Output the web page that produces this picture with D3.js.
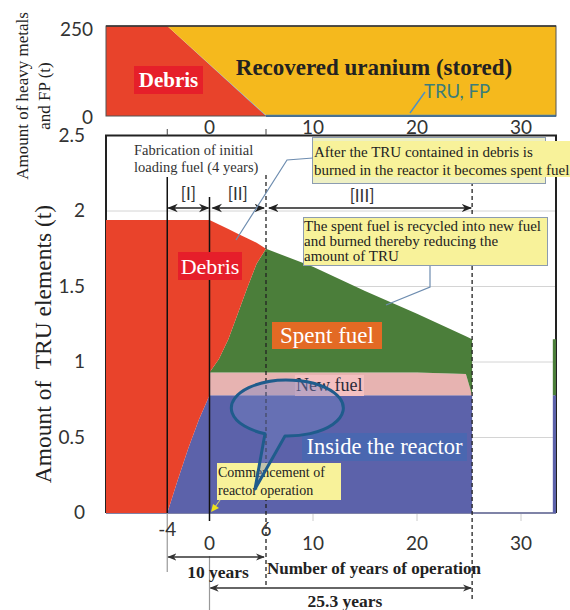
<!DOCTYPE html>
<html>
<head>
<meta charset="utf-8">
<script src="https://cdn.jsdelivr.net/npm/d3@7"></script>
<style>
  html, body { margin: 0; padding: 0; background: #fff; }
  svg { display: block; }
  .serif { font-family: "Liberation Serif", "Times New Roman", serif; }
  .sans { font-family: Lato, "Open Sans", "Liberation Sans", sans-serif; }
</style>
</head>
<body>
<svg id="chart" width="570" height="610"></svg>
<script>
// ---- Upper panel: heavy metals and FP (t) ----
const topYears   = [-9.8, -4, 6, 33.3];
const topDebris  = [250, 250, 0, 0];
const topTruFp   = [0, 0, 2, 2];
const topUranium = [0, 0, 248, 248];
const topYTicks  = [0, 250];
const topXTicks  = [0, 10, 20, 30];

// ---- Lower panel: TRU elements (t) ----
const years   = [-9.8, -4, -3, -2, -1, 0, 0, 1, 2, 3, 4, 5, 6, 10, 15, 20, 24.7, 25.3, 25.3, 33, 33, 33.3];
const reactor = [0, 0, 0.22, 0.43, 0.62, 0.78, 0.78, 0.78, 0.78, 0.78, 0.78, 0.78, 0.78, 0.78, 0.78, 0.78, 0.78, 0.78, 0, 0, 0.78, 0.78];
const newFuel = [0, 0, 0, 0, 0, 0, 0.15, 0.15, 0.15, 0.15, 0.15, 0.15, 0.15, 0.15, 0.15, 0.15, 0.14, 0, 0, 0, 0, 0];
const spent   = [0, 0, 0, 0, 0, 0, 0, 0.09, 0.22, 0.39, 0.56, 0.72, 0.82, 0.70, 0.54, 0.39, 0.25, 0.37, 0, 0, 0.37, 0.37];
const debris  = [1.94, 1.94, 1.72, 1.51, 1.32, 1.16, 1.01, 0.89, 0.73, 0.53, 0.33, 0.14, 0, 0, 0, 0, 0, 0, 0, 0, 0, 0];
const yTicks       = [0, 0.5, 1, 1.5, 2, 2.5];
const gridTicks    = [0.5, 1, 1.5, 2];
const xTicksLow    = [0, 10, 20, 30];
const xTicksRaised = [-4, 6];
const markerYears  = { fabStart: -4, start: 0, debrisGone: 6, end: 25.3 };

const svg = d3.select("#chart");

// Year axis shared by both panels; spacing follows the printed tick positions
const x = d3.scaleLinear()
  .domain([-9.8, 0, 6, 10, 30, 33.3])
  .range([106, 209.5, 266, 313, 521, 556]);
const yTop = d3.scaleLinear().domain([0, 250]).range([116, 26]);
const yB   = d3.scaleLinear().domain([0, 2.5]).range([513, 135.5]);

// arrowhead marker
const defs = svg.append("defs");
function marker(id, color) {
  defs.append("marker").attr("id", id)
    .attr("viewBox", "0 0 10 10").attr("refX", 9).attr("refY", 5)
    .attr("markerWidth", 7).attr("markerHeight", 7)
    .attr("orient", "auto-start-reverse")
    .append("path").attr("d", "M0,1 L10,5 L0,9 L3,5 Z").attr("fill", color);
}
marker("arrB", "#222");
marker("arrG", "#333");

// ================= Upper panel =================
const topRows = topYears.map((yr, i) => ({ year: yr, debris: topDebris[i], tru: topTruFp[i], uranium: topUranium[i] }));
const topStack = d3.stack().keys(["debris", "tru", "uranium"])(topRows);
const topColors = { debris: "#e8432b", tru: "#3d8fd4", uranium: "#f5b91d" };
const topArea = d3.area().x(d => x(d.data.year)).y0(d => yTop(d[0])).y1(d => yTop(d[1]));

svg.append("g").selectAll("path").data(topStack).join("path")
  .attr("d", topArea).attr("fill", d => topColors[d.key]);

// TRU, FP thin band drawn as a line along its top
const truLayer = topStack.find(s => s.key === "tru");
svg.append("path")
  .datum(truLayer.filter(d => d.data.tru > 0))
  .attr("d", d3.line().x(d => x(d.data.year)).y(d => yTop(d[1]) + 0.5))
  .attr("fill", "none").attr("stroke", "#3d8fd4").attr("stroke-width", 2.2);

// upper panel frame
svg.append("rect")
  .attr("x", x(-9.8)).attr("y", yTop(250))
  .attr("width", x(33.3) - x(-9.8)).attr("height", yTop(0) - yTop(250))
  .attr("fill", "none").attr("stroke", "#555").attr("stroke-width", 1);
svg.append("line")
  .attr("x1", x(-9.8)).attr("x2", x(33.3)).attr("y1", yTop(250)).attr("y2", yTop(250))
  .attr("stroke", "#333").attr("stroke-width", 1.5);

// upper panel labels
svg.append("rect").attr("x", 134).attr("y", 66).attr("width", 69).attr("height", 28).attr("fill", "#e61f2a");
svg.append("text").attr("class", "serif").attr("x", 168.5).attr("y", 87)
  .attr("text-anchor", "middle").attr("font-size", 21).attr("font-weight", "bold").attr("fill", "#fff")
  .text("Debris");
svg.append("text").attr("class", "serif").attr("x", 374).attr("y", 75)
  .attr("text-anchor", "middle").attr("font-size", 23).attr("font-weight", "bold").attr("fill", "#222")
  .text("Recovered uranium (stored)");
svg.append("text").attr("class", "sans").attr("x", 424).attr("y", 98)
  .attr("font-size", 18.5).attr("fill", "#3b7d7a").text("TRU, FP");
svg.append("line").attr("x1", 425).attr("y1", 92).attr("x2", 410).attr("y2", 113)
  .attr("stroke", "#4a90c8").attr("stroke-width", 1.4);

// upper panel ticks
svg.append("g").selectAll("text").data(topYTicks).join("text")
  .attr("class", "sans").attr("x", 93).attr("y", d => yTop(d) + (d === 0 ? 8 : 10))
  .attr("text-anchor", "end").attr("font-size", 19).attr("fill", "#333").text(d => d);
svg.append("g").selectAll("text").data(topXTicks).join("text")
  .attr("class", "sans").attr("x", d => x(d)).attr("y", 134)
  .attr("text-anchor", "middle").attr("font-size", 19).attr("fill", "#333").text(d => d);

// upper panel axis title
const tTitle = svg.append("g").attr("transform", "translate(0,96)");
tTitle.append("text").attr("class", "serif").attr("transform", "translate(28,0) rotate(-90)")
  .attr("text-anchor", "middle").attr("font-size", 17).attr("fill", "#222").text("Amount of heavy metals");
tTitle.append("text").attr("class", "serif").attr("transform", "translate(50,0) rotate(-90)")
  .attr("text-anchor", "middle").attr("font-size", 17).attr("fill", "#222").text("and FP (t)");

// ================= Lower panel =================
// frame and grid (drawn beneath the areas)
svg.append("g").selectAll("line").data(gridTicks).join("line")
  .attr("x1", x(-9.8)).attr("x2", x(33.3)).attr("y1", d => yB(d)).attr("y2", d => yB(d))
  .attr("stroke", "#d4d4d4").attr("stroke-width", 1);
svg.append("path")
  .attr("d", `M${x(-9.8)},${yB(0)} V${yB(2.5)} H${x(33.3)} V${yB(0)}`)
  .attr("fill", "none").attr("stroke", "#222").attr("stroke-width", 2);
svg.append("line").attr("x1", x(-9.8)).attr("x2", x(33.3)).attr("y1", yB(0)).attr("y2", yB(0))
  .attr("stroke", "#555a8a").attr("stroke-width", 1.5);
// small ticks above the frame
svg.append("g").selectAll("line").data(xTicksRaised).join("line")
  .attr("x1", d => x(d)).attr("x2", d => x(d)).attr("y1", 129).attr("y2", yB(2.5))
  .attr("stroke", "#444").attr("stroke-width", 1);
// faint ticks below the axis
svg.append("g").selectAll("line").data(xTicksLow.slice(1)).join("line")
  .attr("x1", d => x(d)).attr("x2", d => x(d)).attr("y1", yB(0) + 1).attr("y2", yB(0) + 8)
  .attr("stroke", "#ccc").attr("stroke-width", 1);

const rows = years.map((yr, i) => ({ year: yr, reactor: reactor[i], newFuel: newFuel[i], spent: spent[i], debris: debris[i] }));
const stack = d3.stack().keys(["reactor", "newFuel", "spent", "debris"])(rows);
const colors = { reactor: "#5c62aa", newFuel: "#e7b3b1", spent: "#4b7e3a", debris: "#e9432b" };
const area = d3.area().x(d => x(d.data.year)).y0(d => yB(d[0])).y1(d => yB(d[1]));
svg.append("g").selectAll("path").data(stack).join("path")
  .attr("d", area).attr("fill", d => colors[d.key]);

// phase markers
const xm = markerYears;
svg.append("line").attr("x1", x(xm.fabStart)).attr("x2", x(xm.fabStart)).attr("y1", 177).attr("y2", yB(0))
  .attr("stroke", "#111").attr("stroke-width", 1.5);
svg.append("line").attr("x1", x(xm.fabStart)).attr("x2", x(xm.fabStart)).attr("y1", yB(0)).attr("y2", 572)
  .attr("stroke", "#999").attr("stroke-width", 1.2);
svg.append("line").attr("x1", x(xm.start)).attr("x2", x(xm.start)).attr("y1", 197).attr("y2", 521)
  .attr("stroke", "#111").attr("stroke-width", 1.5);
svg.append("line").attr("x1", x(xm.start)).attr("x2", x(xm.start)).attr("y1", 556).attr("y2", 610)
  .attr("stroke", "#999").attr("stroke-width", 1.2);
svg.append("line").attr("x1", x(xm.debrisGone)).attr("x2", x(xm.debrisGone)).attr("y1", 175).attr("y2", 588)
  .attr("stroke", "#222").attr("stroke-width", 1.3).attr("stroke-dasharray", "4,3");
svg.append("line").attr("x1", x(xm.end)).attr("x2", x(xm.end)).attr("y1", 175).attr("y2", 600)
  .attr("stroke", "#222").attr("stroke-width", 1.3).attr("stroke-dasharray", "4,3");

// phase arrows [I] [II] [III]
function dblArrow(x1, x2, y, id, w) {
  svg.append("line").attr("x1", x1).attr("x2", x2).attr("y1", y).attr("y2", y)
    .attr("stroke", id === "arrB" ? "#222" : "#333").attr("stroke-width", w)
    .attr("marker-start", `url(#${id})`).attr("marker-end", `url(#${id})`);
}
dblArrow(x(xm.fabStart) + 1, x(xm.start) - 1, 208, "arrB", 1.5);
dblArrow(x(xm.start) + 3, x(xm.debrisGone) - 2, 208, "arrB", 1.5);
dblArrow(x(xm.debrisGone) + 3, x(xm.end) - 1, 208, "arrB", 1.5);
[["[I]", (x(xm.fabStart) + x(xm.start)) / 2, 200], ["[II]", (x(xm.start) + x(xm.debrisGone)) / 2, 200], ["[III]", 362, 202]]
  .forEach(([t, cx, by]) => {
    svg.append("text").attr("class", "sans").attr("x", cx).attr("y", by)
      .attr("text-anchor", "middle").attr("font-size", 17).attr("fill", "#333").text(t);
  });

// fabrication note
const fab = svg.append("text").attr("class", "serif").attr("font-size", 14.5).attr("fill", "#333");
fab.append("tspan").attr("x", 134).attr("y", 155).text("Fabrication of initial");
fab.append("tspan").attr("x", 134).attr("y", 172).text("loading fuel (4 years)");

// callout: debris TRU becomes spent fuel
svg.append("rect").attr("x", 312.5).attr("y", 137.5).attr("width", 233).attr("height", 46)
  .attr("fill", "#eef0c4").attr("stroke", "#8c9cb0").attr("stroke-width", 1);
svg.append("rect").attr("x", 313).attr("y", 141).attr("width", 257).attr("height", 36).attr("fill", "#f8f29a");
const c1 = svg.append("text").attr("class", "serif").attr("font-size", 15).attr("fill", "#222");
c1.append("tspan").attr("x", 314).attr("y", 157).text("After the TRU contained in debris is");
c1.append("tspan").attr("x", 314).attr("y", 175).text("burned in the reactor it becomes spent fuel");
svg.append("path").attr("d", "M236,240 L287,160 L313,158")
  .attr("fill", "none").attr("stroke", "#6e8db0").attr("stroke-width", 1.2);

// callout: recycling
svg.append("rect").attr("x", 303.5).attr("y", 217.5).attr("width", 244).attr("height", 48)
  .attr("fill", "#f8f29a").attr("stroke", "#8c9cb0").attr("stroke-width", 1);
const c2 = svg.append("text").attr("class", "serif").attr("font-size", 15).attr("fill", "#222");
c2.append("tspan").attr("x", 304).attr("y", 231).text("The spent fuel is recycled into new fuel");
c2.append("tspan").attr("x", 304).attr("y", 246).text("and burned thereby reducing the");
c2.append("tspan").attr("x", 304).attr("y", 261).text("amount of TRU");
svg.append("path").attr("d", "M430,266 L430,287 L386,305")
  .attr("fill", "none").attr("stroke", "#6e8db0").attr("stroke-width", 1.2);

// series labels
svg.append("rect").attr("x", 178).attr("y", 252).attr("width", 64).attr("height", 28).attr("fill", "#e61e2a");
svg.append("text").attr("class", "serif").attr("x", 210).attr("y", 274).attr("text-anchor", "middle")
  .attr("font-size", 22).attr("fill", "#fff").text("Debris");

svg.append("rect").attr("x", 272).attr("y", 322).attr("width", 110).attr("height", 27).attr("fill", "#e36a24");
svg.append("text").attr("class", "serif").attr("x", 327).attr("y", 343).attr("text-anchor", "middle")
  .attr("font-size", 23).attr("fill", "#fff").text("Spent fuel");

svg.append("rect").attr("x", 295).attr("y", 375).attr("width", 69).attr("height", 21).attr("fill", "#f4c0c1");
svg.append("text").attr("class", "serif").attr("x", 296).attr("y", 391)
  .attr("font-size", 18).attr("fill", "#2a2a3a").text("New fuel");

svg.append("rect").attr("x", 302).attr("y", 433).attr("width", 165).attr("height", 28).attr("fill", "#4a67b0");
svg.append("text").attr("class", "serif").attr("x", 384.5).attr("y", 454).attr("text-anchor", "middle")
  .attr("font-size", 22.5).attr("fill", "#fff").text("Inside the reactor");

// reactor start note
svg.append("rect").attr("x", 217).attr("y", 463).attr("width", 124).attr("height", 37).attr("fill", "#f8f29a");
const c3 = svg.append("text").attr("class", "serif").attr("font-size", 14).attr("fill", "#222");
c3.append("tspan").attr("x", 218).attr("y", 477).text("Commencement of");
c3.append("tspan").attr("x", 218).attr("y", 495).text("reactor operation");
svg.append("line").attr("x1", 220).attr("y1", 500).attr("x2", 215).attr("y2", 507)
  .attr("stroke", "#c9c77a").attr("stroke-width", 1.2);
svg.append("path").attr("d", "M211,512 L213,504 L219,508 Z").attr("fill", "#eee21a");

// speech bubble over the reactor region
svg.append("path")
  .attr("d", "M265,433.7 A56 28 0 1 1 285,436 L255,489 Z")
  .attr("fill", "#7482c4").attr("fill-opacity", 0.42)
  .attr("stroke", "#1f5c8c").attr("stroke-width", 3).attr("stroke-linejoin", "round");

// lower panel ticks
svg.append("g").selectAll("text").data(yTicks).join("text")
  .attr("class", "sans").attr("x", 85).attr("y", d => yB(d) + 6)
  .attr("text-anchor", "end").attr("font-size", 19).attr("fill", "#333").text(d => d);
svg.append("g").selectAll("text").data(xTicksLow).join("text")
  .attr("class", "sans").attr("x", d => x(d)).attr("y", 550)
  .attr("text-anchor", "middle").attr("font-size", 19).attr("fill", "#333").text(d => d);
svg.append("g").selectAll("text").data(xTicksRaised).join("text")
  .attr("class", "sans").attr("x", d => x(d)).attr("y", 536)
  .attr("text-anchor", "middle").attr("font-size", 19).attr("fill", "#333").text(d => d);

// lower panel axis title
svg.append("text").attr("class", "serif").attr("transform", "translate(51,344) rotate(-90)")
  .attr("text-anchor", "middle").attr("font-size", 23.5).attr("fill", "#222")
  .style("white-space", "pre").text("Amount of  TRU elements (t)");

// period spans below the axis
dblArrow(x(xm.fabStart) + 1, x(xm.debrisGone) - 2, 557, "arrG", 1.3);
dblArrow(x(xm.start) + 1, x(xm.end) - 1, 588, "arrG", 1.3);
svg.append("text").attr("class", "serif").attr("x", 218).attr("y", 578).attr("text-anchor", "middle")
  .attr("font-size", 17.5).attr("font-weight", "bold").attr("fill", "#222").text("10 years");
svg.append("text").attr("class", "serif").attr("x", 374).attr("y", 574).attr("text-anchor", "middle")
  .attr("font-size", 17).attr("font-weight", "bold").attr("fill", "#222").text("Number of years of operation");
svg.append("text").attr("class", "serif").attr("x", 345).attr("y", 607).attr("text-anchor", "middle")
  .attr("font-size", 17.5).attr("font-weight", "bold").attr("fill", "#222").text("25.3 years");
</script>
</body>
</html>
